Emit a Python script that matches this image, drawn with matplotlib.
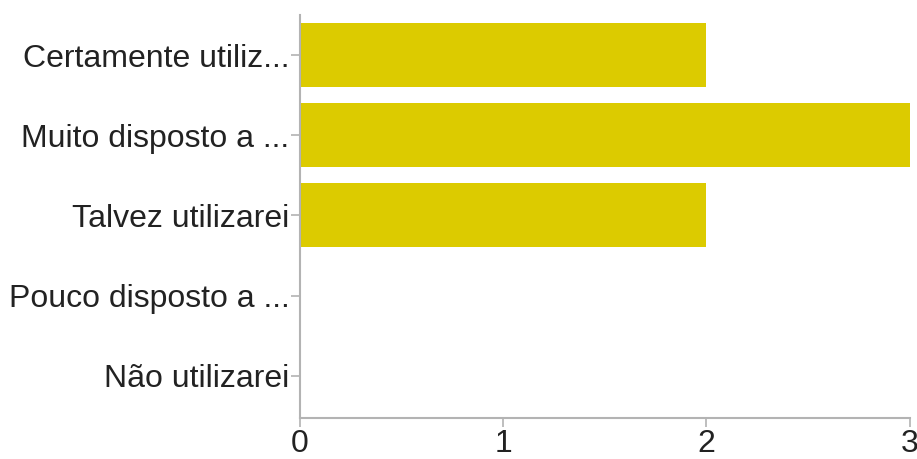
import matplotlib.pyplot as plt

# Survey answers and how many people picked each one
categories = ['Certamente utiliz...', 'Muito disposto a ...', 'Talvez utilizarei',
              'Pouco disposto a ...', 'Não utilizarei']
counts = [2, 3, 2, 0, 0]
xticks = [0, 1, 2, 3]

plt.rcParams['font.family'] = ['Liberation Sans', 'DejaVu Sans']

fig = plt.figure(figsize=(9.17, 4.59), dpi=100)
ax = fig.add_axes([0.327, 0.089, 0.665, 0.878])

ax.barh(range(len(categories)), counts, height=0.8, color='#dccb00')

ax.set_ylim(len(categories) - 0.47, -0.5)
ax.set_xlim(0, 3)
ax.set_yticks(range(len(categories)))
ax.set_yticklabels(categories)
ax.set_xticks(xticks)

for side in ['top', 'right']:
    ax.spines[side].set_visible(False)
for side in ['left', 'bottom']:
    ax.spines[side].set_color('#b3b3b3')
    ax.spines[side].set_linewidth(1.5)

ax.tick_params(axis='both', colors='#b3b3b3', length=6.5, width=1.2,
               labelsize=23, labelcolor='#222222', pad=1)

fig.savefig('out.png', dpi=100)
